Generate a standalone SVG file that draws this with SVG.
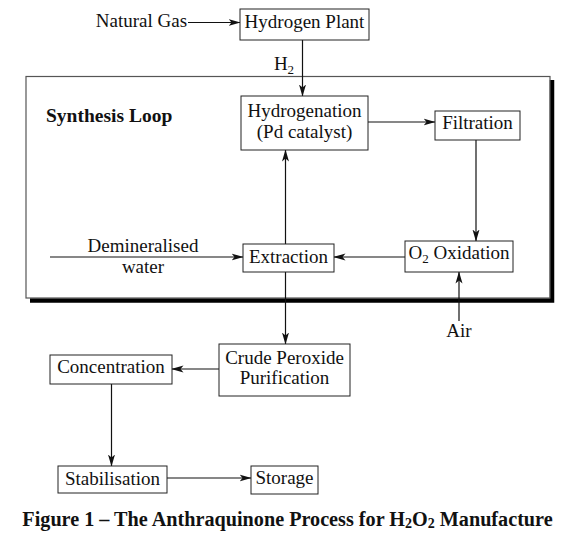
<svg xmlns="http://www.w3.org/2000/svg" width="570" height="553" viewBox="0 0 570 553">
<style>
.box{fill:#fff;stroke:#222;stroke-width:1}
.t{font-family:"Liberation Serif","Times New Roman",serif;font-size:19px;fill:#111;text-anchor:middle}
.b{font-weight:bold}
.sub{font-size:13px}
.c{stroke:#111;stroke-width:1.2;fill:none;marker-end:url(#ah)}
</style>
<defs>
<marker id="ah" viewBox="0 0 12 8" refX="11.5" refY="4" markerWidth="12" markerHeight="8" markerUnits="userSpaceOnUse" orient="auto">
<path d="M0,0.5 L12,4 L0,7.5 L3,4 z" fill="#111"/>
</marker>
</defs>
<rect width="570" height="553" fill="#fff"/>
<g id="synthesis-loop">
<path d="M552,80 V300.5 H30" fill="none" stroke="#000" stroke-width="4.5"/>
<rect x="26" y="76.5" width="524" height="221.5" fill="none" stroke="#555" stroke-width="1.2"/>
<text class="t b" x="46" y="122" style="text-anchor:start;font-size:19.5px">Synthesis Loop</text>
</g>
<g id="connectors">
<path class="c" d="M188,22.5 H240"/>
<path class="c" d="M302.5,40 V96"/>
<path class="c" d="M368,122 H435"/>
<path class="c" d="M476,140 V241"/>
<path class="c" d="M405,257 H334"/>
<path class="c" d="M50,257 H243"/>
<path class="c" d="M285.5,244 V150"/>
<path class="c" d="M285.5,272 V344"/>
<path class="c" d="M459,321 V272"/>
<path class="c" d="M219,369 H172"/>
<path class="c" d="M111.5,384 V466"/>
<path class="c" d="M167,478 H251"/>
</g>
<g id="natural-gas"><text class="t" x="141.5" y="27">Natural Gas</text></g>
<g id="h2-label"><text class="t" x="284" y="70">H<tspan class="sub" dy="4">2</tspan></text></g>
<g id="hydrogen-plant">
<rect class="box" x="240" y="9" width="129" height="31"/>
<text class="t" x="304.5" y="28">Hydrogen Plant</text>
</g>
<g id="hydrogenation">
<rect class="box" x="241" y="96" width="127" height="54"/>
<text class="t" x="304.5" y="117">Hydrogenation</text>
<text class="t" x="304.5" y="138">(Pd catalyst)</text>
</g>
<g id="filtration">
<rect class="box" x="435" y="111" width="85" height="29"/>
<text class="t" x="477.5" y="129">Filtration</text>
</g>
<g id="oxidation">
<rect class="box" x="405" y="241" width="108" height="31"/>
<text class="t" x="459" y="259">O<tspan class="sub" dy="4">2</tspan><tspan dy="-4"> Oxidation</tspan></text>
</g>
<g id="extraction">
<rect class="box" x="243" y="244" width="91" height="28"/>
<text class="t" x="288.5" y="263">Extraction</text>
</g>
<g id="demineralised-water">
<text class="t" x="143" y="252">Demineralised</text>
<text class="t" x="143" y="273">water</text>
</g>
<g id="air"><text class="t" x="459" y="337">Air</text></g>
<g id="crude-peroxide">
<rect class="box" x="219" y="344" width="131" height="52"/>
<text class="t" x="284.5" y="364">Crude Peroxide</text>
<text class="t" x="284.5" y="384">Purification</text>
</g>
<g id="concentration">
<rect class="box" x="50" y="355" width="122" height="29"/>
<text class="t" x="111" y="373">Concentration</text>
</g>
<g id="stabilisation">
<rect class="box" x="58" y="466" width="109" height="27"/>
<text class="t" x="112.5" y="485">Stabilisation</text>
</g>
<g id="storage">
<rect class="box" x="251" y="466" width="67" height="28"/>
<text class="t" x="284.5" y="484">Storage</text>
</g>
<g id="caption">
<text class="t b" x="287.5" y="526" style="font-size:20.2px">Figure 1 – The Anthraquinone Process for H<tspan style="font-size:14px" dy="2">2</tspan><tspan dy="-2">O</tspan><tspan style="font-size:14px" dy="2">2</tspan><tspan dy="-2"> Manufacture</tspan></text>
</g>
</svg>
